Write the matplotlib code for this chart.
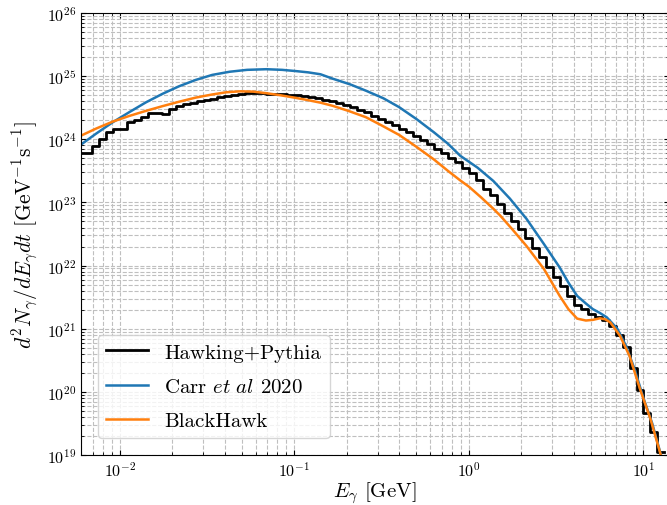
#!/usr/bin/env python3
"""Photon spectrum comparison: Hawking+Pythia vs Carr et al 2020 vs BlackHawk."""

import matplotlib
matplotlib.use("Agg")
import matplotlib.pyplot as plt
import numpy as np

plt.rcParams["mathtext.fontset"] = "cm"
plt.rcParams["font.family"] = "serif"
plt.rcParams["font.serif"] = ["cmr10", "DejaVu Serif"]
plt.rcParams["axes.formatter.use_mathtext"] = True

# Hawking+Pythia histogram: log10 of counts per bin (bins of 0.04 dex)
pythia_log_emin, pythia_log_emax = -2.24, 1.12
pythia_logy = [
    23.78, 23.78, 23.90, 24.01, 24.11, 24.16, 24.16, 24.27, 24.31, 24.35,
    24.42, 24.42, 24.40, 24.48, 24.53, 24.56, 24.58, 24.61, 24.63, 24.64,
    24.67, 24.69, 24.70, 24.72, 24.73, 24.73, 24.73, 24.72, 24.72, 24.71,
    24.70, 24.70, 24.68, 24.67, 24.65, 24.63, 24.61, 24.58, 24.55, 24.51,
    24.47, 24.43, 24.37, 24.32, 24.27, 24.22, 24.17, 24.11, 24.05, 23.99,
    23.92, 23.85, 23.78, 23.71, 23.64, 23.55, 23.47, 23.35, 23.22, 23.11,
    22.97, 22.84, 22.71, 22.58, 22.44, 22.28, 22.13, 21.97, 21.82, 21.67,
    21.52, 21.38, 21.31, 21.24, 21.19, 21.14, 21.04, 20.90, 20.71, 20.38,
    20.03, 19.67, 19.37, 19.05,
]

# Carr et al 2020 (log10 E, log10 dN/dEdt)
carr_logE = [-2.23, -2.135, -2.04, -1.945, -1.85, -1.755, -1.66, -1.565, -1.47,
             -1.37, -1.27, -1.16, -1.07, -0.99, -0.92, -0.85, -0.78, -0.68,
             -0.59, -0.49, -0.40, -0.30, -0.20, -0.12, -0.05, 0.05, 0.14,
             0.235, 0.33, 0.43, 0.52, 0.57, 0.62, 0.67, 0.71, 0.75, 0.79,
             0.85, 0.90, 0.95, 1.00, 1.05, 1.10, 1.14]
carr_logy = [23.90, 24.09, 24.27, 24.43, 24.585, 24.72, 24.84, 24.94, 25.02,
             25.07, 25.10, 25.11, 25.10, 25.08, 25.06, 25.03, 24.96, 24.87,
             24.77, 24.65, 24.51, 24.32, 24.11, 23.93, 23.74, 23.55, 23.34,
             23.06, 22.74, 22.34, 21.97, 21.73, 21.52, 21.40, 21.31, 21.25,
             21.18, 21.00, 20.73, 20.35, 19.90, 19.50, 19.00, 18.6]

# BlackHawk
bh_logE = [-2.23, -2.135, -2.04, -1.945, -1.85, -1.755, -1.66, -1.565, -1.47,
           -1.39, -1.31, -1.235, -1.16, -1.085, -1.01, -0.93, -0.85, -0.78,
           -0.69, -0.59, -0.50, -0.40, -0.30, -0.20, -0.12, -0.05, 0.00, 0.07,
           0.14, 0.18, 0.25, 0.33, 0.43, 0.52, 0.57, 0.62, 0.67, 0.71, 0.75,
           0.78, 0.81, 0.865, 0.92, 0.98, 1.04, 1.095, 1.14]
bh_logy = [24.047, 24.17, 24.28, 24.37, 24.45, 24.525, 24.595, 24.66, 24.71,
           24.745, 24.76, 24.755, 24.73, 24.70, 24.665, 24.625, 24.58, 24.53,
           24.45, 24.35, 24.22, 24.07, 23.88, 23.68, 23.50, 23.35, 23.25, 23.08,
           22.90, 22.79, 22.57, 22.31, 21.945, 21.52, 21.31, 21.16, 21.13,
           21.14, 21.165, 21.15, 21.10, 20.89, 20.57, 20.045, 19.57, 19.04, 18.6]

x_major_ticks = [1e-2, 1e-1, 1e0, 1e1]


def main() -> None:
    fig = plt.figure(figsize=(6.67, 5.06), dpi=100)
    ax = fig.add_axes([0.1214, 0.0988, 0.8816, 0.8735])

    edges = 10 ** np.linspace(pythia_log_emin, pythia_log_emax, len(pythia_logy) + 1)
    y_steps = 10 ** np.array(pythia_logy + [pythia_logy[-1]])
    ax.step(edges, y_steps, where="post", color="black", lw=2.0,
            label="Hawking+Pythia")
    ax.plot(10 ** np.array(carr_logE), 10 ** np.array(carr_logy),
            color="tab:blue", lw=1.8, label=r"Carr $et\ al$ 2020")
    ax.plot(10 ** np.array(bh_logE), 10 ** np.array(bh_logy),
            color="tab:orange", lw=1.8, label="BlackHawk")

    ax.set_xscale("log")
    ax.set_yscale("log")
    ax.set_xticks(x_major_ticks)
    ax.set_xlim(6e-3, 14)
    ax.set_ylim(1e19, 1e26)
    ax.grid(True, which="both", ls="--", color="0.75", lw=0.8)
    ax.tick_params(which="both", direction="in", top=True, right=True, labelsize=11.5)
    ax.set_xlabel(r"$E_\gamma$ [GeV]", fontsize=15, labelpad=1)
    ax.set_ylabel(r"$d^2N_\gamma/dE_\gamma dt$ [GeV$^{-1}$s$^{-1}$]", fontsize=15.5)
    ax.legend(loc="lower left", fontsize=15, handlelength=2.0,
              labelspacing=0.75, borderaxespad=0.8)

    fig.savefig("out.png", dpi=100)


if __name__ == "__main__":
    main()
